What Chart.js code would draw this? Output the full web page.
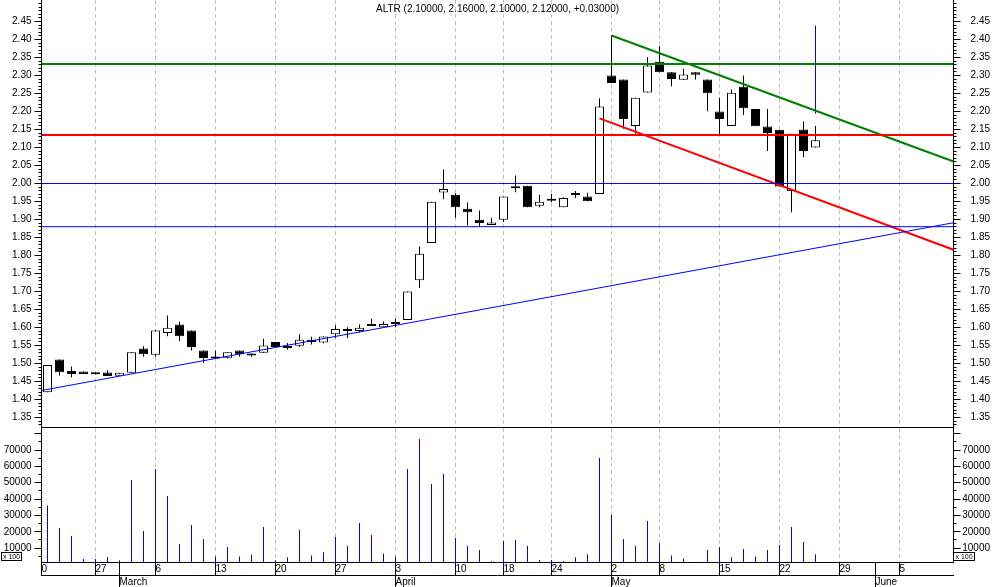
<!DOCTYPE html>
<html>
<head>
<meta charset="utf-8">
<script src="https://cdn.jsdelivr.net/npm/chart.js@4/dist/chart.umd.min.js"></script>
<style>
  html, body { margin:0; padding:0; background:#ffffff; }
  body { width:994px; height:587px; position:relative; overflow:hidden; }
  canvas { position:absolute; left:0; display:block; }
  #priceCanvas { top:0; }
  #volCanvas { top:428px; }
</style>
</head>
<body>
<canvas id="priceCanvas" width="994" height="428"></canvas>
<canvas id="volCanvas" width="994" height="159"></canvas>
<script>
// ---------------- DATA ----------------
const symbol = 'ALTR';
const lastQuote = ['2.10000', '2.16000', '2.10000', '2.12000', '+0.03000'];

// daily candles, one entry per trading day (x = trading-day index)
const openP = [1.420,1.511,1.479,1.478,1.475,1.475,1.466,1.474,1.542,1.524,
               1.585,1.608,1.592,1.536,1.519,1.516,1.536,1.528,1.530,1.560,
               1.543,1.549,1.566,1.558,1.581,1.594,1.590,1.604,1.601,1.610,
               1.621,1.731,1.835,1.975,1.969,1.930,1.899,1.885,1.899,1.987,
               1.994,1.938,1.952,1.934,1.968,1.964,1.971,2.300,2.289,2.160,
               2.253,2.338,2.309,2.288,2.309,2.289,2.200,2.160,2.269,2.207,
               2.158,2.149,1.979,2.150,2.100];
const highP = [1.496,1.511,1.492,1.478,1.475,1.481,1.474,1.531,1.548,1.593,
               1.633,1.616,1.592,1.536,1.536,1.531,1.536,1.528,1.569,1.560,
               1.557,1.581,1.574,1.575,1.606,1.601,1.608,1.624,1.617,1.624,
               1.700,1.825,1.949,2.039,1.973,1.947,1.925,1.905,1.964,2.022,
               1.994,1.969,1.971,1.962,1.979,1.974,2.237,2.411,2.289,2.238,
               2.351,2.381,2.309,2.319,2.309,2.289,2.238,2.261,2.300,2.207,
               2.207,2.149,2.138,2.172,2.160];
const lowP  = [1.420,1.467,1.462,1.471,1.470,1.465,1.466,1.474,1.519,1.519,
               1.576,1.562,1.536,1.502,1.514,1.514,1.519,1.519,1.530,1.546,
               1.538,1.546,1.553,1.556,1.571,1.571,1.587,1.604,1.601,1.601,
               1.621,1.710,1.835,1.956,1.905,1.883,1.879,1.885,1.893,1.976,
               1.934,1.934,1.948,1.934,1.960,1.951,1.971,2.279,2.152,2.138,
               2.253,2.309,2.270,2.288,2.289,2.201,2.135,2.160,2.190,2.159,
               2.090,1.992,1.920,2.073,2.100];
const closeP = [1.496,1.476,1.471,1.471,1.470,1.465,1.474,1.531,1.526,1.592,
               1.599,1.576,1.546,1.515,1.514,1.531,1.526,1.522,1.550,1.546,
               1.543,1.566,1.560,1.575,1.596,1.590,1.599,1.610,1.610,1.610,
               1.700,1.805,1.949,1.985,1.934,1.920,1.890,1.892,1.964,1.987,
               1.934,1.949,1.952,1.960,1.968,1.951,2.214,2.279,2.179,2.238,
               2.328,2.309,2.290,2.303,2.302,2.251,2.179,2.252,2.209,2.159,
               2.140,1.992,2.138,2.090,2.120];
const volume = [36000,22300,17400,3300,3300,4500,2600,51700,20500,58400,
                41900,12500,24100,15600,4900,10700,4900,6100,22900,2600,
                4400,21100,5500,7400,16800,11300,25400,18000,6700,4900,
                58400,76800,49300,55400,16200,11300,8800,2000,14300,14900,
                11300,2700,2700,2000,4400,6200,65200,30300,15600,11300,
                26600,13100,5500,3700,0,8800,10700,4400,9500,4900,
                8800,11900,22900,13700,6200];

// study lines (prices)
const levelPrices = [2.332, 2.135, 2.000, 1.880];
const trendX1 = [-0.5, 47, 46];
const trendY1 = [1.425, 2.411, 2.181];
const trendX2 = [75.5, 75.5, 75.5];
const trendY2 = [1.891, 2.061, 1.816];
const markerX = 64;
const markerY = [2.194, 2.439];

// tick labels
const priceTickLabels = ['1.35','1.40','1.45','1.50','1.55','1.60','1.65','1.70','1.75','1.80','1.85','1.90',
                         '1.95','2.00','2.05','2.10','2.15','2.20','2.25','2.30','2.35','2.40','2.45'];
const volumeTickLabels = ['10000','20000','30000','40000','50000','60000','70000',''];
const volumeTickValues = [10000,20000,30000,40000,50000,60000,70000,80000];
const weekTickIdx    = [4, 9, 14, 19, 24, 29, 34, 38, 42, 47, 51, 56, 61, 66, 71];
const weekTickLabels = ['27','6','13','20','27','3','10','18','24','2','8','15','22','29','5'];
const firstDayLabel = '0';
const monthStartIdx = [6, 29, 47, 69];
const monthLabels = ['March', 'April', 'May', 'June'];

// ---------------- STYLE / LAYOUT ----------------
const X_MIN = -0.5, X_MAX = 75.5;
const P_MIN = 1.32361, P_MAX = 2.50972;
const V_MIN = 1500, V_MAX = 83500;
const BLACK = '#000000', WHITE = '#ffffff', GRID = '#c0c0c0';
const GREEN = '#008000', RED = '#ff0000', BLUE = '#0000ff';
const levelColors = [GREEN, RED, BLUE, BLUE];
const levelWidths = [2, 2, 1, 1];
const trendColors = [BLUE, GREEN, RED];
const trendWidths = [1, 2, 2];
const FONT = '"Liberation Sans", Arial, sans-serif';

Chart.defaults.font.family = FONT;
Chart.defaults.font.size = 10;
Chart.defaults.color = BLACK;

const dayIndex = openP.map((_, i) => i);
const priceTickValues = priceTickLabels.map(Number);
const priceMinorValues = Array.from({length: 118}, (_, k) => Math.round((1.33 + k * 0.01) * 100) / 100);
const volumeMinorValues = Array.from({length: 16}, (_, k) => 5000 * (k + 1));

const noPad = s => { s.paddingTop = 0; s.paddingBottom = 0; s.paddingLeft = 0; s.paddingRight = 0; };

function valueAxis(o) {
  return {
    type: 'linear', position: o.position, weight: o.weight, min: o.min, max: o.max,
    beginAtZero: false,
    afterBuildTicks: s => { s.ticks = o.values.map(v => ({value: v})); },
    ticks: {
      display: !!o.labels, autoSkip: false, padding: 3,
      crossAlign: o.position === 'right' ? 'far' : 'near',
      callback: (v, i) => (o.labels ? o.labels[i] : ''),
      color: BLACK, font: {size: 10, family: FONT}
    },
    grid: {drawOnChartArea: false, drawTicks: true, tickLength: o.tickLength, tickColor: BLACK, color: BLACK, tickWidth: 1},
    border: {display: !!o.labels, color: BLACK, width: 1},
    afterFit: s => { s.width = o.width; noPad(s); }
  };
}

function lineDs(points, color, width) {
  return {type: 'line', data: points, borderColor: color, borderWidth: width, pointRadius: 0,
          pointHoverRadius: 0, fill: false, tension: 0, xAxisID: 'x', yAxisID: 'y', order: 0};
}

// ---------------- PRICE CHART ----------------
const priceDatasets = [];
levelPrices.forEach((p, k) => priceDatasets.push(lineDs([{x: X_MIN, y: p}, {x: X_MAX, y: p}], levelColors[k], levelWidths[k])));
trendX1.forEach((x1, k) => priceDatasets.push(lineDs([{x: x1, y: trendY1[k]}, {x: trendX2[k], y: trendY2[k]}], trendColors[k], trendWidths[k])));
priceDatasets.push(lineDs([{x: markerX, y: markerY[0]}, {x: markerX, y: markerY[1]}], BLUE, 1));
priceDatasets.push({
  type: 'bar', label: 'body', xAxisID: 'x', yAxisID: 'y', order: 1,
  data: dayIndex.map(i => ({x: i, y: [openP[i], closeP[i]]})),
  backgroundColor: ctx => (ctx.dataIndex === undefined || closeP[ctx.dataIndex] >= openP[ctx.dataIndex]) ? WHITE : BLACK,
  borderColor: BLACK, borderWidth: 1, borderSkipped: false, barThickness: 9, minBarLength: 2,
  inflateAmount: 0, grouped: false
});
priceDatasets.push({
  type: 'bar', label: 'wick', xAxisID: 'x', yAxisID: 'y', order: 2,
  data: dayIndex.map(i => ({x: i, y: [lowP[i], highP[i]]})),
  backgroundColor: BLACK, borderWidth: 0, barThickness: 1, inflateAmount: 0, grouped: false
});

const titlePlugin = {
  id: 'titleText',
  afterDraw(chart) {
    const ctx = chart.ctx, a = chart.chartArea;
    ctx.save();
    ctx.font = '10px ' + FONT;
    ctx.fillStyle = BLACK;
    ctx.textAlign = 'center';
    ctx.textBaseline = 'middle';
    ctx.fillText(symbol + ' (' + lastQuote.join(', ') + ')', (a.left + a.right) / 2, 9);
    ctx.restore();
  }
};

new Chart(document.getElementById('priceCanvas'), {
  type: 'bar',
  data: {datasets: priceDatasets},
  options: {
    responsive: false, maintainAspectRatio: false, animation: false, devicePixelRatio: 1,
    layout: {padding: {left: 0, right: 4, top: 0, bottom: 0}},
    plugins: {legend: {display: false}, tooltip: {enabled: false}, title: {display: false}},
    events: [],
    scales: {
      x: {
        type: 'linear', position: 'bottom', min: X_MIN, max: X_MAX, offset: false,
        afterBuildTicks: s => { s.ticks = weekTickIdx.map(v => ({value: v})); },
        ticks: {display: false},
        grid: {color: GRID, drawTicks: false, lineWidth: 1, offset: false},
        border: {display: true, color: BLACK, dash: [4, 3]},
        afterFit: s => { s.height = 1; noPad(s); }
      },
      y: valueAxis({position: 'left', weight: 1, min: P_MIN, max: P_MAX, values: priceTickValues, labels: priceTickLabels, tickLength: 7, width: 41.5}),
      yLm: valueAxis({position: 'left', weight: 0, min: P_MIN, max: P_MAX, values: priceMinorValues, labels: null, tickLength: 3, width: 0}),
      yRm: valueAxis({position: 'right', weight: 0, min: P_MIN, max: P_MAX, values: priceMinorValues, labels: null, tickLength: 3, width: 0}),
      yR: valueAxis({position: 'right', weight: 1, min: P_MIN, max: P_MAX, values: priceTickValues, labels: priceTickLabels, tickLength: 7, width: 36.5})
    }
  },
  plugins: [titlePlugin]
});

// ---------------- VOLUME CHART ----------------
const dayAxisValues = [X_MIN].concat(weekTickIdx, monthStartIdx)
  .filter((v, i, arr) => arr.indexOf(v) === i).sort((a, b) => a - b);
function dayLabel(v) {
  if (v === X_MIN) return firstDayLabel;
  const k = weekTickIdx.indexOf(v);
  return k >= 0 ? weekTickLabels[k] : '';
}

const boxPlugin = {
  id: 'x100',
  afterDraw(chart) {
    const ctx = chart.ctx, a = chart.chartArea;
    const top = a.bottom - 10;
    ctx.save();
    ctx.font = '7px ' + FONT;
    ctx.textAlign = 'center';
    ctx.textBaseline = 'middle';
    [[1.5, 20], [a.right, 21]].forEach(([x, w]) => {
      ctx.fillStyle = WHITE;
      ctx.fillRect(x, top + 0.5, w, 8);
      ctx.strokeStyle = BLACK;
      ctx.lineWidth = 1;
      ctx.strokeRect(x, top + 0.5, w, 8);
      ctx.fillStyle = BLACK;
      ctx.fillText('x 100', x + w / 2, top + 4.7);
    });
    ctx.restore();
  }
};

new Chart(document.getElementById('volCanvas'), {
  type: 'bar',
  data: {datasets: [{
    type: 'bar', label: 'volume', xAxisID: 'x', yAxisID: 'y',
    data: dayIndex.map(i => ({x: i, y: volume[i]})),
    backgroundColor: BLUE, borderWidth: 0, barThickness: 1, inflateAmount: 0, grouped: false
  }]},
  options: {
    responsive: false, maintainAspectRatio: false, animation: false, devicePixelRatio: 1,
    layout: {padding: {left: 0, right: 4, top: 0, bottom: 0}},
    plugins: {legend: {display: false}, tooltip: {enabled: false}, title: {display: false}},
    events: [],
    scales: {
      x: {
        type: 'linear', position: 'bottom', weight: 0, min: X_MIN, max: X_MAX, offset: false,
        afterBuildTicks: s => { s.ticks = dayAxisValues.map(v => ({value: v})); },
        ticks: {autoSkip: false, maxRotation: 0, minRotation: 0, align: 'start', padding: -12,
                callback: v => dayLabel(v), color: BLACK, font: {size: 10, family: FONT}},
        grid: {
          color: ctx => (ctx.tick && weekTickIdx.indexOf(ctx.tick.value) >= 0) ? GRID : 'rgba(0,0,0,0)',
          tickColor: BLACK, tickLength: 13, drawTicks: true, lineWidth: 1, offset: false
        },
        border: {display: true, color: BLACK, dash: [4, 3]},
        afterFit: s => { s.height = 13; noPad(s); }
      },
      x2: {
        type: 'linear', position: 'bottom', weight: 1, min: X_MIN, max: X_MAX, offset: false,
        afterBuildTicks: s => { s.ticks = monthStartIdx.map(v => ({value: v})); },
        ticks: {autoSkip: false, maxRotation: 0, minRotation: 0, align: 'start', padding: -11,
                callback: (v, i) => monthLabels[i], color: BLACK, font: {size: 10, family: FONT}},
        grid: {drawOnChartArea: false, tickColor: BLACK, color: BLACK, tickLength: 12, drawTicks: true, offset: false},
        border: {display: true, color: BLACK},
        afterFit: s => { s.height = 12; noPad(s); }
      },
      y: valueAxis({position: 'left', weight: 1, min: V_MIN, max: V_MAX, values: volumeTickValues, labels: volumeTickLabels, tickLength: 7, width: 41.5}),
      yLm: valueAxis({position: 'left', weight: 0, min: V_MIN, max: V_MAX, values: volumeMinorValues, labels: null, tickLength: 3, width: 0}),
      yRm: valueAxis({position: 'right', weight: 0, min: V_MIN, max: V_MAX, values: volumeMinorValues, labels: null, tickLength: 3, width: 0}),
      yR: valueAxis({position: 'right', weight: 1, min: V_MIN, max: V_MAX, values: volumeTickValues, labels: volumeTickLabels, tickLength: 7, width: 36.5})
    }
  },
  plugins: [boxPlugin]
});
</script>
</body>
</html>
